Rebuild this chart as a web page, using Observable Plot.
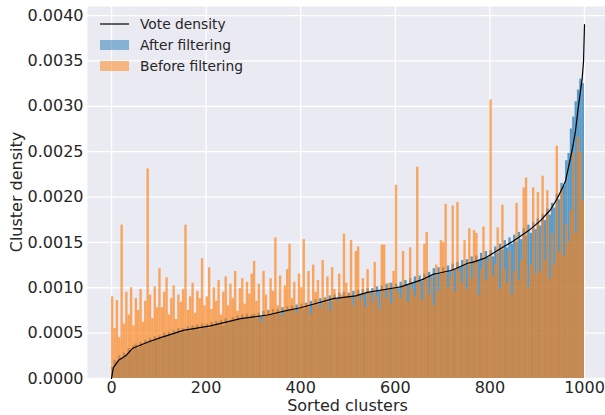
<!DOCTYPE html>
<html>
<head>
<meta charset="utf-8">
<script src="https://cdn.jsdelivr.net/npm/d3@7"></script>
<script src="https://cdn.jsdelivr.net/npm/@observablehq/plot@0.6"></script>
<style>
  html, body { margin: 0; padding: 0; background: #ffffff; }
  #chart { width: 605px; height: 415px; }
</style>
</head>
<body>
<div id="chart"></div>
<script>
// ---- Data (densities in units of 1e-5) ----
const clustersPerBin = 5;

// "After filtering" cluster density, one value per bin of 5 sorted clusters
const afterFiltering = [
  12,20,18,25,22,28,26,33,30,36,
  38,33,40,36,42,39,44,40,46,42,
  47,43,50,46,51,47,53,49,55,50,
  55,51,57,52,58,54,59,53,60,55,
  60,55,62,57,63,59,64,58,66,61,
  62,67,63,69,64,70,65,71,66,70,
  71,66,72,68,74,69,75,70,76,71,
  76,71,78,73,79,74,80,75,81,76,
  82,76,83,78,85,80,87,81,88,83,
  89,84,91,85,92,87,94,88,95,89,
  94,90,96,91,97,92,98,93,99,94,
  99,94,101,96,102,97,104,98,105,99,
  104,99,106,101,108,103,110,105,112,107,
  113,107,115,109,117,112,121,114,122,115,
  122,116,124,118,126,120,128,122,130,124,
  131,125,134,128,135,130,138,131,140,133,
  141,134,145,138,148,141,152,144,155,148,
  158,150,161,153,165,157,169,160,172,164,
  176,168,181,174,187,180,193,188,203,197,
  215,212,240,248,275,288,305,318,330,325
];

// "Before filtering" cluster density, one value per bin of 5 sorted clusters
const beforeFiltering = [
  90,55,86,45,169,60,95,70,100,58,
  88,75,98,62,85,231,92,66,101,78,
  121,78,95,111,70,88,102,65,92,84,
  98,169,75,90,105,72,96,88,132,80,
  90,122,76,100,85,108,70,95,112,80,
  104,88,118,74,99,110,82,106,93,115,
  129,85,104,62,118,92,75,110,96,155,
  80,113,68,102,120,148,88,106,72,115,
  100,153,82,118,70,125,95,108,78,130,
  88,112,74,122,98,85,115,92,159,105,
  92,152,80,140,145,86,110,78,120,95,
  84,128,90,76,147,147,88,105,82,118,
  213,95,88,140,102,84,144,98,90,233,
  105,86,148,161,92,110,80,125,96,152,
  150,192,100,112,190,95,194,118,105,152,
  98,165,110,163,160,92,120,167,108,130,
  307,112,125,166,98,191,120,105,140,92,
  118,193,108,130,210,221,100,125,210,115,
  205,118,223,130,207,110,160,125,256,140,
  210,135,170,150,185,248,160,266,249,196
];

// Vote density (sorted cluster index, density)
const voteCluster = [0,4,15,30,44,76,104,152,209,273,330,372,400,469,516,541,600,611,657,681,691,717,727,753,763,791,822,848,882,907,928,943,955,960,970,975,981,986,991,995,998,1000];
const voteDensity = [0,12,20,25,33,40,45,53,58,66,70,75,78,88,91,95,100,101,109,115,116,119,121,127,128,133,143,151,163,174,186,199,212,218,242,255,273,295,315,330,350,390];

const xTicks = [0, 200, 400, 600, 800, 1000];
const yTicks = [0, 0.0005, 0.001, 0.0015, 0.002, 0.0025, 0.003, 0.0035, 0.004];
const legendLabels = ["Vote density", "After filtering", "Before filtering"];

const unit = 1e-5;
const afterRows = afterFiltering.map((v, i) => ({x1: i * clustersPerBin, x2: (i + 1) * clustersPerBin, y: v * unit}));
const beforeRows = beforeFiltering.map((v, i) => ({x1: i * clustersPerBin, x2: (i + 1) * clustersPerBin, y: v * unit}));
const voteRows = voteCluster.map((c, i) => ({x: c, y: voteDensity[i] * unit}));

const W = 605, H = 415;
const mL = 87, mR = 0, mT = 6, mB = 37;
const pxPerCluster = 0.473;
const xMin = -(111 - mL) / pxPerCluster;
const xMax = 1000 + (W - mR - 584) / pxPerCluster;

const plot = Plot.plot({
  width: W,
  height: H,
  marginLeft: mL,
  marginRight: mR,
  marginTop: mT,
  marginBottom: mB,
  style: {fontFamily: "DejaVu Sans, sans-serif", fontSize: "16px", color: "#262626", background: "#ffffff", overflow: "visible"},
  x: {domain: [xMin, xMax]},
  y: {domain: [0, 0.0041]},
  marks: [
    Plot.frame({fill: "#eaeaf2", stroke: null}),
    Plot.gridX(xTicks, {stroke: "#ffffff", strokeOpacity: 1, strokeWidth: 1.3}),
    Plot.gridY(yTicks, {stroke: "#ffffff", strokeOpacity: 1, strokeWidth: 1.3}),
    Plot.rectY(afterRows, {x1: "x1", x2: "x2", y: "y", fill: "#1f77b4", fillOpacity: 0.7, inset: 0}),
    Plot.rectY(beforeRows, {x1: "x1", x2: "x2", y: "y", fill: "#ff7f0e", fillOpacity: 0.66, inset: 0}),
    Plot.line(voteRows, {x: "x", y: "y", stroke: "#000000", strokeWidth: 1.2}),
    Plot.axisX(xTicks, {tickSize: 0, tickPadding: 3, label: null, tickFormat: d3.format("d"), fontSize: 16}),
    Plot.axisY(yTicks, {tickSize: 0, tickPadding: 4, label: null, tickFormat: d3.format(".4f"), fontSize: 16})
  ]
});

document.getElementById("chart").appendChild(plot);

// Axis titles and legend
const svg = d3.select(plot);
svg.append("text")
  .attr("x", (111 + 584) / 2).attr("y", 411)
  .attr("text-anchor", "middle")
  .attr("font-family", "DejaVu Sans, sans-serif").attr("font-size", 16).attr("fill", "#262626")
  .text("Sorted clusters");
svg.append("text")
  .attr("transform", `translate(22,${(mT + H - mB) / 2}) rotate(-90)`)
  .attr("text-anchor", "middle")
  .attr("font-family", "DejaVu Sans, sans-serif").attr("font-size", 16).attr("fill", "#262626")
  .text("Cluster density");

const lg = svg.append("g")
  .attr("font-family", "DejaVu Sans, sans-serif").attr("font-size", 13.8)
  .attr("fill", "#262626").attr("text-anchor", "start");
lg.append("line").attr("x1", 100).attr("x2", 129).attr("y1", 24).attr("y2", 24).attr("stroke", "#000").attr("stroke-width", 1.2);
lg.append("rect").attr("x", 100).attr("y", 40).attr("width", 29).attr("height", 10).attr("fill", "#1f77b4").attr("fill-opacity", 0.5);
lg.append("rect").attr("x", 100).attr("y", 61).attr("width", 29).attr("height", 10).attr("fill", "#ff7f0e").attr("fill-opacity", 0.5);
[24, 45, 66].forEach((y, i) => {
  lg.append("text").attr("x", 140).attr("y", y).attr("dy", "0.35em").attr("text-anchor", "start").text(legendLabels[i]);
});
</script>
</body>
</html>
